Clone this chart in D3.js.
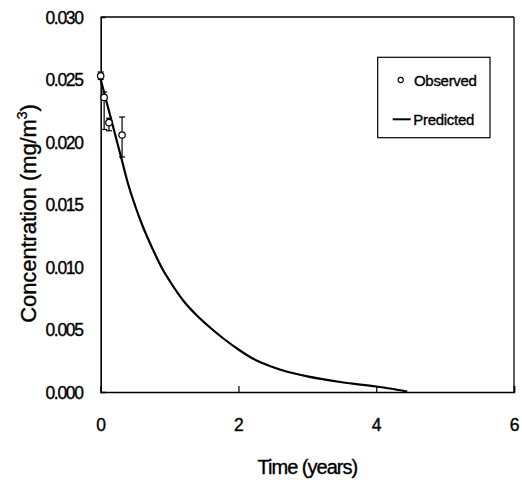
<!DOCTYPE html>
<html>
<head>
<meta charset="utf-8">
<script src="https://cdn.jsdelivr.net/npm/d3@7"></script>
<style>
  html, body { margin: 0; padding: 0; background: #fff; }
  svg { display: block; font-family: "Liberation Sans", Arial, sans-serif; }
  text { fill: #000; stroke: #000; stroke-width: 0.35px; }
</style>
</head>
<body>
<svg id="chart" width="522" height="485"></svg>
<script>
// Predicted curve
const predX = [0, 0.1, 0.2, 0.3, 0.4, 0.5, 0.6, 0.7, 0.8, 0.9, 1.0, 1.2, 1.4, 1.6, 1.8, 2.0, 2.2, 2.4, 2.6, 2.8, 3.0, 3.5, 4.0, 4.2, 4.45];
const predY = [0.0250, 0.0229, 0.0208, 0.0187, 0.0166, 0.0149, 0.0134, 0.0121, 0.0109, 0.0098, 0.0089, 0.0073, 0.0061, 0.0051, 0.0042, 0.0034, 0.0027, 0.0022, 0.0018, 0.0015, 0.00125, 0.00078, 0.00044, 0.00028, 0.00003];
// Observed points with error bars
const obsX = [0, 0.05, 0.12, 0.31];
const obsY = [0.0253, 0.02357, 0.02155, 0.02056];
const obsLow = [0.0250, 0.0210, 0.0209, 0.0188];
const obsHigh = [0.0256, 0.0240, 0.0219, 0.0220];
// Axis ticks
const xTickLabels = [0, 2, 4, 6];
const yTickLabels = [0, 0.005, 0.010, 0.015, 0.020, 0.025, 0.030];
const legendLabels = ["Observed", "Predicted"];

const svg = d3.select("#chart");
const L = 100.7, R = 514, T = 17, B = 392;
const x = d3.scaleLinear().domain([0, 6]).range([L, R]);
const y = d3.scaleLinear().domain([0, 0.030]).range([B, T]);

// frame (top and right)
svg.append("line").attr("x1", L).attr("x2", R).attr("y1", T).attr("y2", T)
  .attr("stroke", "#000").attr("stroke-width", 1.3);
svg.append("line").attr("x1", R).attr("x2", R).attr("y1", T).attr("y2", B)
  .attr("stroke", "#000").attr("stroke-width", 1.3);

// x axis minor ticks
const gx = svg.append("g").attr("transform", `translate(0,${B})`);
gx.call(d3.axisBottom(x).tickValues(d3.range(0, 6.01, 0.5)).tickSize(-4).tickFormat(""))
  .call(g => g.select(".domain").remove());
gx.call(d3.axisBottom(x).tickValues(xTickLabels).tickSize(-6).tickPadding(0).tickFormat(d3.format("d")))
  .call(g => g.select(".domain").attr("stroke-width", 1.6))
  .call(g => g.selectAll("text").attr("font-size", 17.5).attr("fill", "#000")
    .attr("font-family", "Liberation Sans, Arial, sans-serif").attr("dy", 0).attr("y", 38.5));
gx.selectAll("line").attr("stroke", "#000").attr("stroke-width", 1.2);

// y axis
const gy = svg.append("g").attr("transform", `translate(${L},0)`);
gy.call(d3.axisLeft(y).tickValues(d3.range(0, 0.03001, 0.001)).tickSize(-4).tickFormat(""))
  .call(g => g.select(".domain").remove());
gy.call(d3.axisLeft(y).tickValues(yTickLabels).tickSize(-5).tickPadding(0).tickFormat(d3.format(".3f")))
  .call(g => g.select(".domain").attr("stroke-width", 1.6))
  .call(g => g.selectAll("text").attr("font-size", 17.5).attr("fill", "#000")
    .attr("font-family", "Liberation Sans, Arial, sans-serif").attr("letter-spacing", "-1.3px")
    .attr("x", -18).attr("dy", "0.35em"));
gy.selectAll(".tick line").attr("stroke", "#000").attr("stroke-width", 1.2);
gy.selectAll(".tick").filter(d => yTickLabels.includes(+d.toFixed(3))).select("line").attr("x1", 5);

// predicted curve
const line = d3.line().x(d => x(d[0])).y(d => y(d[1])).curve(d3.curveMonotoneX);
svg.append("path").datum(d3.zip(predX, predY)).attr("d", line)
  .attr("fill", "none").attr("stroke", "#000").attr("stroke-width", 2.2);

// observed error bars
const obs = obsX.map((v, i) => ({x: v, y: obsY[i], lo: obsLow[i], hi: obsHigh[i]}));
const eb = svg.append("g").attr("stroke", "#000").attr("stroke-width", 1.2);
obs.forEach(d => {
  eb.append("line").attr("x1", x(d.x)).attr("x2", x(d.x)).attr("y1", y(d.lo)).attr("y2", y(d.hi));
  eb.append("line").attr("x1", x(d.x) - 3).attr("x2", x(d.x) + 3).attr("y1", y(d.lo)).attr("y2", y(d.lo));
  eb.append("line").attr("x1", x(d.x) - 3).attr("x2", x(d.x) + 3).attr("y1", y(d.hi)).attr("y2", y(d.hi));
});
svg.append("g").selectAll("circle").data(obs).join("circle")
  .attr("cx", d => x(d.x)).attr("cy", d => y(d.y)).attr("r", 3.2)
  .attr("fill", "#fff").attr("stroke", "#000").attr("stroke-width", 1.2);

// legend
const lg = svg.append("g");
lg.append("rect").attr("x", 377.7).attr("y", 57.3).attr("width", 112.3).attr("height", 80.4)
  .attr("fill", "#fff").attr("stroke", "#000").attr("stroke-width", 1.2);
lg.append("circle").attr("cx", 400.7).attr("cy", 80).attr("r", 2.6)
  .attr("fill", "#fff").attr("stroke", "#000").attr("stroke-width", 1.1);
lg.append("line").attr("x1", 392.7).attr("x2", 410.7).attr("y1", 119.3).attr("y2", 119.3)
  .attr("stroke", "#000").attr("stroke-width", 2);
lg.append("text").attr("x", 414).attr("y", 85.5).attr("font-size", 15).attr("letter-spacing", "-0.3px").text(legendLabels[0]);
lg.append("text").attr("x", 413.3).attr("y", 124.8).attr("font-size", 15).attr("letter-spacing", "-0.3px").text(legendLabels[1]);

// axis titles
svg.append("text").attr("x", (L + R) / 2).attr("y", 474).attr("text-anchor", "middle")
  .attr("font-size", 20).attr("letter-spacing", "-1px").text("Time (years)");
const yt = svg.append("text").attr("transform", `translate(36,${(T + B) / 2 + 9}) rotate(-90)`)
  .attr("text-anchor", "middle").attr("font-size", 22).attr("letter-spacing", "-0.1px");
yt.append("tspan").text("Concentration (mg/m");
yt.append("tspan").attr("font-size", 14).attr("dy", -9).text("3");
yt.append("tspan").attr("dy", 9).text(")");
</script>
</body>
</html>
